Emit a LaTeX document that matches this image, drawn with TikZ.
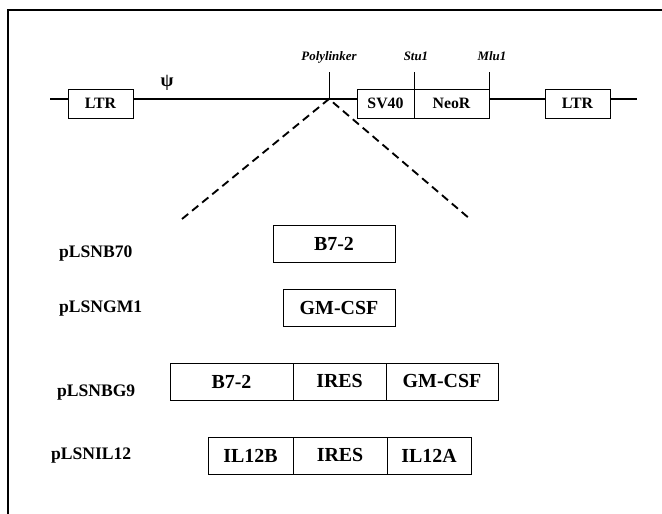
\documentclass[tikz,border=0pt]{standalone}
\usepackage{fontspec}
\setmainfont{Liberation Serif}
\usetikzlibrary{positioning}
\newcommand\unitpx{0.03cm}

\begin{document}
\begin{tikzpicture}[
    x=0.03cm, y=-0.03cm,
    frame/.style={line width=1.2pt},
    backbone/.style={line width=1.7pt},
    tick/.style={line width=0.6pt},
    vecbox/.style={draw, line width=0.8pt, minimum height=29*\unitpx,
        inner sep=0pt, outer sep=0pt,
        font=\fontsize{13.5}{15}\selectfont\bfseries},
    site/.style={anchor=base, font=\fontsize{11}{13}\selectfont\bfseries\itshape},
    genebox/.style={draw, line width=0.8pt, minimum height=37*\unitpx,
        inner sep=0pt, outer sep=0pt,
        font=\fontsize{17}{20}\selectfont\bfseries},
    construct/.style={anchor=base west, font=\fontsize{15}{18}\selectfont\bfseries},
    insert/.style={line width=1.6pt, dash pattern=on 0.24cm off 0.15cm}
]
    \useasboundingbox (0,0) rectangle (662,514);
    \draw[frame] (662,10) -- (8,10) -- (8,514);

    % vector backbone
    \node[vecbox, minimum width=65*\unitpx] (ltr_left) at (100.5,103.5) {LTR};
    \node[vecbox, minimum width=57*\unitpx] (sv40) at (385.5,103.5) {SV40};
    \node[vecbox, minimum width=75*\unitpx, right=0pt of sv40] (neor) {NeoR};
    \node[vecbox, minimum width=65*\unitpx] (ltr_right) at (577.5,103.5) {LTR};
    \coordinate (line_start) at (50,99);
    \coordinate (line_end) at (637,99);
    \coordinate (poly_site) at (329,99);
    \draw[backbone] (line_start) -- (line_start -| ltr_left.west);
    \draw[backbone] (ltr_left.east |- line_start) -- (sv40.west |- line_start);
    \draw[backbone] (neor.east |- line_start) -- (ltr_right.west |- line_start);
    \draw[backbone] (ltr_right.east |- line_start) -- (line_end);

    \node[font=\fontsize{16}{18}\selectfont\bfseries] (psi) at (167,83) {ψ};
    \node[site] (poly_label) at (329,61) {Polylinker};
    \node[site] (stu_label) at (416,61) {Stu1};
    \node[site] (mlu_label) at (492,61) {Mlu1};
    \draw[tick] (poly_site) -- ++(0,-27);
    \draw[tick] (sv40.north east) -- ++(0,-17);
    \draw[tick] (neor.north east) -- ++(0,-17);

    \coordinate (insert_left) at (182,219);
    \coordinate (insert_right) at (470,219);
    \draw[insert] (insert_left) -- (poly_site) -- (insert_right);

    % inserts
    \node[construct] (b70_label) at (55,258) {pLSNB70};
    \node[genebox, minimum width=122*\unitpx] (b70_b72) at (334,243.5) {B7-2};

    \node[construct] (gm1_label) at (55,313) {pLSNGM1};
    \node[genebox, minimum width=112*\unitpx] (gm1_gmcsf) at (339,308) {GM-CSF};

    \node[construct] (bg9_label) at (53,397) {pLSNBG9};
    \node[genebox, minimum width=123*\unitpx] (bg9_b72) at (231.5,381.5) {B7-2};
    \node[genebox, minimum width=93*\unitpx, right=0pt of bg9_b72] (bg9_ires) {IRES};
    \node[genebox, minimum width=112*\unitpx, right=0pt of bg9_ires] (bg9_gmcsf) {GM-CSF};

    \node[construct] (il12_label) at (47,460) {pLSNIL12};
    \node[genebox, minimum width=85*\unitpx] (il12_b) at (250.5,455.5) {IL12B};
    \node[genebox, minimum width=94*\unitpx, right=0pt of il12_b] (il12_ires) {IRES};
    \node[genebox, minimum width=84*\unitpx, right=0pt of il12_ires] (il12_a) {IL12A};
\end{tikzpicture}
\end{document}
